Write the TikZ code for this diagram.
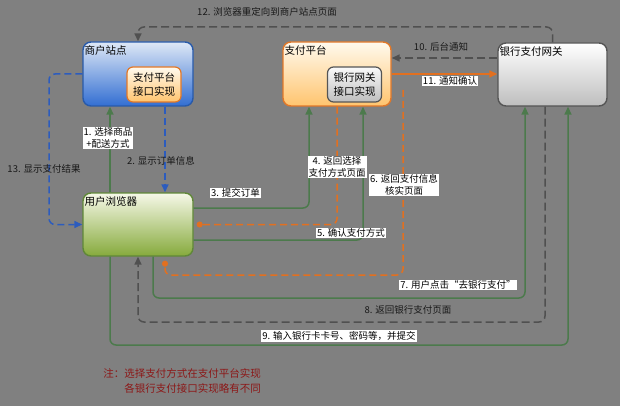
\documentclass[tikz,border=0pt]{standalone}
\usepackage{fontspec}
\setmainfont{Noto Sans CJK SC}
\usetikzlibrary{arrows.meta,calc}
\definecolor{bgc}{RGB}{128,128,128}
\definecolor{grn}{RGB}{76,122,76}
\definecolor{blu}{RGB}{44,92,190}
\definecolor{org}{RGB}{226,112,32}
\definecolor{dgray}{RGB}{80,80,80}
\definecolor{notered}{RGB}{140,24,24}
\definecolor{mtop}{RGB}{222,232,246}
\definecolor{mbot}{RGB}{50,110,210}
\definecolor{mbrd}{RGB}{40,90,170}
\definecolor{otop}{RGB}{255,250,238}
\definecolor{obot}{RGB}{255,196,110}
\definecolor{obrd}{RGB}{226,120,40}
\definecolor{gtop}{RGB}{250,250,250}
\definecolor{gbot}{RGB}{190,190,190}
\definecolor{gbrd}{RGB}{85,85,85}
\definecolor{btop}{RGB}{246,248,232}
\definecolor{bbot}{RGB}{134,170,60}
\definecolor{bbrd}{RGB}{96,136,56}
\begin{document}
\begin{tikzpicture}[x=1pt,y=-1pt,
  box/.style={draw, line width=1.4pt, rounded corners=8pt, inner sep=0pt},
  ibox/.style={draw, line width=1.2pt, rounded corners=6pt, inner sep=0pt,
    minimum width=54pt, minimum height=35pt, align=center,
    font=\fontsize{10.5}{14}\selectfont},
  ttl/.style={anchor=north west, inner sep=1pt, font=\fontsize{10.5}{13}\selectfont},
  lbl/.style={fill=white, inner sep=1pt, align=center, font=\fontsize{9.5}{11.5}\selectfont, text=black},
  nlbl/.style={inner sep=1pt, align=center, font=\fontsize{9.5}{11.5}\selectfont, text=black!90},
  tip/.style={-{Triangle[length=8pt,width=7pt]}},
  dtip/.style={-{Circle[length=6pt]}},
  gline/.style={grn, line width=1.5pt, rounded corners=6pt, tip},
  bline/.style={blu, line width=1.5pt, dash pattern=on 7pt off 4pt, rounded corners=6pt, tip},
  oline/.style={org, line width=1.5pt, dash pattern=on 7pt off 4pt, rounded corners=6pt},
  kline/.style={dgray, line width=1.5pt, dash pattern=on 8pt off 4pt, rounded corners=6pt, tip}
]
\useasboundingbox (0,0) rectangle (620,406);
\fill[bgc] (0,0) rectangle (620,406);

% main boxes
\node[box, draw=mbrd, top color=mtop, bottom color=mbot, minimum width=110pt, minimum height=64pt] (merchant) at (138,74) {};
\node[box, draw=obrd, top color=otop, bottom color=obot, minimum width=108pt, minimum height=64pt] (payment) at (337,74) {};
\node[box, draw=gbrd, top color=white, bottom color=gbot, minimum width=109pt, minimum height=63pt] (bank) at (552.5,74.5) {};
\node[box, draw=bbrd, top color=btop, bottom color=bbot, minimum width=110pt, minimum height=63pt] (browser) at (138,224.5) {};

\node[ttl] (tm) at ([xshift=1pt,yshift=-3pt]merchant.north west) {商户站点};
\node[ttl] (tp) at ([xshift=1pt,yshift=-3pt]payment.north west) {支付平台};
\node[ttl] (tb) at ([xshift=1pt,yshift=-3pt]bank.north west) {银行支付网关};
\node[ttl] (tu) at ([xshift=1pt,yshift=-3pt]browser.north west) {用户浏览器};

\node[ibox, draw=obrd, top color=otop, bottom color=obot] (mimpl) at (154,84.5) {支付平台\\接口实现};
\node[ibox, draw=gbrd, top color=gtop, bottom color=gbot] (pimpl) at (354.5,84.5) {银行网关\\接口实现};

% level coordinates
\coordinate (y6) at (0,275);
\coordinate (y7) at (0,298);
\coordinate (y8) at (0,322);
\coordinate (y9) at (0,345);
\coordinate (y12) at (0,27);
\coordinate (x13) at (49,0);
\coordinate (s6) at (403,90);

% 1
\draw[gline] ([xshift=-28pt]browser.north) -- ([xshift=-28pt]merchant.south);
% 2
\draw[bline] ([xshift=27pt]merchant.south) -- ([xshift=27pt]browser.north);
% 3
\draw[gline] ([yshift=16.5pt]browser.east) -| ([xshift=-28pt]payment.south);
% 4
\draw[oline, dtip, shorten >=3pt] (payment.south) |- (browser.east);
% 5
\draw[gline] ([yshift=-15.5pt]browser.east) -| ([xshift=26pt]payment.south);
% 6
\draw[oline, dtip, shorten >=4pt] (s6) -- (s6 |- y6) -| ([xshift=27pt]browser.south);
% 7
\draw[gline] ([xshift=15pt]browser.south) -- ([xshift=15pt]browser.south |- y7) -| ([xshift=-27.5pt]bank.south);
% 8
\draw[kline] ([xshift=-7.5pt]bank.south) -- ([xshift=-7.5pt]bank.south |- y8) -| (browser.south);
% 9
\draw[gline] ([xshift=-28pt]browser.south) -- ([xshift=-28pt]browser.south |- y9) -| ([xshift=15.5pt]bank.south);
% 10
\draw[kline] ([yshift=16.5pt]bank.west) -- ([yshift=16.5pt]bank.west -| payment.east);
% 11
\draw[org, line width=1.5pt, tip] (payment.east) -- (payment.east -| bank.west);
% 12
\draw[kline] (bank.north) -- (bank.north |- y12) -| (merchant.north);
% 13
\draw[bline] (merchant.west) -- (merchant.west -| x13) |- (browser.west);

% labels
\node[lbl] (l1) at (108,138) {1. 选择商品\\+配送方式};
\node[nlbl] (l2) at (161,161) {2. 显示订单信息};
\node[lbl] (l3) at (235.5,193) {3. 提交订单};
\node[lbl] (l4) at (337,167) {4. 返回选择\\支付方式页面};
\node[lbl] (l5) at (351,233) {5. 确认支付方式};
\node[lbl] (l6) at (404,185) {6. 返回支付信息\\核实页面};
\node[lbl] (l7) at (458,285) {7. 用户点击“去银行支付”};
\node[nlbl] (l8) at (408,310) {8. 返回银行支付页面};
\node[lbl] (l9) at (339,336) {9. 输入银行卡卡号、密码等，并提交};
\node[nlbl] (l10) at (441,47) {10. 后台通知};
\node[lbl] (l11) at (450,81) {11. 通知确认};
\node[nlbl] (l12) at (267,12) {12. 浏览器重定向到商户站点页面};
\node[nlbl] (l13) at (44,169) {13. 显示支付结果};

\node[anchor=east, align=right, text=notered, inner sep=0pt, font=\fontsize{10.5}{15}\selectfont] (note) at (261,380.5) {注：选择支付方式在支付平台实现\\各银行支付接口实现略有不同};
\end{tikzpicture}
\end{document}
